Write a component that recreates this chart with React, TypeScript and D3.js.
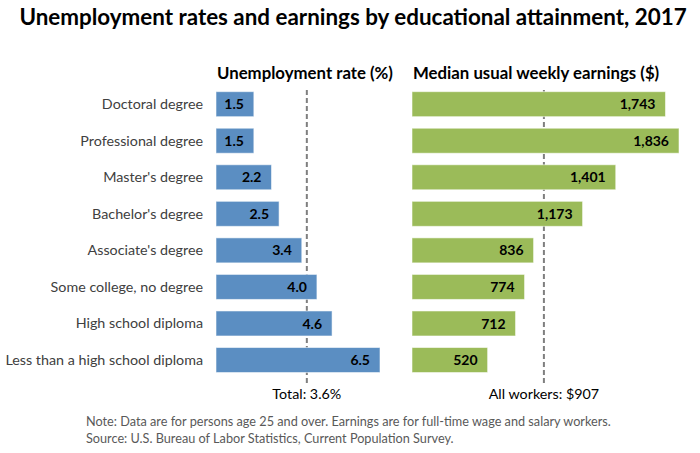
import { useRef, useEffect } from 'react'
import * as d3 from 'd3'

const categories = [
  'Doctoral degree',
  'Professional degree',
  "Master's degree",
  "Bachelor's degree",
  "Associate's degree",
  'Some college, no degree',
  'High school diploma',
  'Less than a high school diploma'
]
const unemployment = [1.5, 1.5, 2.2, 2.5, 3.4, 4.0, 4.6, 6.5]
const earnings = [1743, 1836, 1401, 1173, 836, 774, 712, 520]
const unemploymentTotal = 3.6
const earningsAll = 907

const title = 'Unemployment rates and earnings by educational attainment, 2017'
const notes = [
  'Note: Data are for persons age 25 and over. Earnings are for full-time wage and salary workers.',
  'Source: U.S. Bureau of Labor Statistics, Current Population Survey.'
]

const FONT = 'Lato, "Open Sans", sans-serif'

const App = () => {
  const ref = useRef(null)

  useEffect(() => {
    const svg = d3.select(ref.current)
    svg.selectAll('*').remove()
    svg.attr('width', 700).attr('height', 453)
      .style('font-family', FONT)

    // rows shared by both panels
    const y = d3.scaleBand()
      .domain(categories)
      .range([85.9, 378.3])
      .paddingInner(0.316)
      .paddingOuter(0.158)

    // title
    svg.append('text')
      .attr('x', 353)
      .attr('y', 25)
      .attr('text-anchor', 'middle')
      .attr('font-size', 22.4)
      .attr('font-weight', 'bold')
      .attr('fill', '#000')
      .text(title)

    // category labels
    svg.append('g')
      .selectAll('text')
      .data(categories)
      .enter()
      .append('text')
        .attr('x', 203)
        .attr('y', d => y(d) + y.bandwidth() / 2)
        .attr('dy', '0.35em')
        .attr('text-anchor', 'end')
        .attr('font-size', 14.3)
        .attr('fill', '#404040')
        .text(d => d)

    const panels = [
      {
        values: unemployment,
        ref: unemploymentTotal,
        x: d3.scaleLinear().domain([0, 6.5]).range([216, 380]),
        color: '#5b8ec2',
        heading: 'Unemployment rate (%)',
        refLabel: `Total: ${unemploymentTotal}%`,
        fmt: d3.format('.1f')
      },
      {
        values: earnings,
        ref: earningsAll,
        x: d3.scaleLinear().domain([0, 1836]).range([412, 679]),
        color: '#9bbb59',
        heading: 'Median usual weekly earnings ($)',
        refLabel: `All workers: $${earningsAll}`,
        fmt: d3.format(',')
      }
    ]

    panels.forEach(p => {
      const g = svg.append('g')

      g.append('text')
        .attr('x', p.x(0) + 1)
        .attr('y', 79)
        .attr('font-size', 16.8)
        .attr('font-weight', 'bold')
        .attr('fill', '#000')
        .text(p.heading)

      // reference line behind the bars
      g.append('line')
        .attr('x1', p.x(p.ref))
        .attr('x2', p.x(p.ref))
        .attr('y1', 90)
        .attr('y2', 383)
        .attr('stroke', '#7f7f7f')
        .attr('stroke-width', 2)
        .attr('stroke-dasharray', '5 3')

      g.selectAll('rect')
        .data(p.values)
        .enter()
        .append('rect')
          .attr('x', p.x(0))
          .attr('y', (d, i) => y(categories[i]))
          .attr('width', d => p.x(d) - p.x(0))
          .attr('height', y.bandwidth())
          .attr('fill', p.color)
          .attr('stroke', 'rgba(255,255,255,0.55)')
          .attr('stroke-width', 1)

      g.selectAll('text.val')
        .data(p.values)
        .enter()
        .append('text')
          .attr('class', 'val')
          .attr('x', d => p.x(d) - 10)
          .attr('y', (d, i) => y(categories[i]) + y.bandwidth() / 2)
          .attr('dy', '0.36em')
          .attr('text-anchor', 'end')
          .attr('font-size', 14)
          .attr('font-weight', 'bold')
          .attr('fill', '#000')
          .text(d => p.fmt(d))

      g.append('text')
        .attr('x', p.x(p.ref))
        .attr('y', 399)
        .attr('text-anchor', 'middle')
        .attr('font-size', 14.3)
        .attr('fill', '#000')
        .text(p.refLabel)
    })

    // notes
    svg.append('g')
      .selectAll('text')
      .data(notes)
      .enter()
      .append('text')
        .attr('x', 86)
        .attr('y', (d, i) => 426 + i * 17)
        .attr('font-size', 12.7)
        .attr('fill', '#595959')
        .text(d => d)
  }, [])

  return (
    <svg ref={ ref } style={ { position: 'absolute', left: 0, top: 0 } }></svg>
  )
}

export default App
